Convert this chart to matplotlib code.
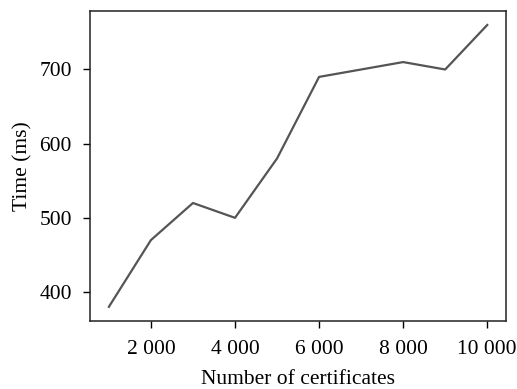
import matplotlib
matplotlib.use("Agg")
import matplotlib.pyplot as plt
from matplotlib.ticker import FuncFormatter

# data
certificates = [1000, 2000, 3000, 4000, 5000, 6000, 7000, 8000, 9000, 10000]
time_ms = [380, 470, 520, 500, 580, 690, 700, 710, 700, 760]

plt.rcParams["font.family"] = ["Liberation Serif", "DejaVu Serif"]
plt.rcParams["font.size"] = 15.5

fig = plt.figure(figsize=(5.17, 3.89), dpi=100)
ax = fig.add_axes([0.174, 0.175, 0.805, 0.797])
ax.plot(certificates, time_ms, color="#555555", lw=1.6)

ax.set_xticks([2000, 4000, 6000, 8000, 10000])
ax.set_yticks([400, 500, 600, 700])
ax.xaxis.set_major_formatter(FuncFormatter(lambda v, p: f"{int(v):,}".replace(",", " ")))
ax.tick_params(direction="out", length=5, width=1, labelsize=15.5)
ax.tick_params(axis="x", pad=9)
ax.tick_params(axis="y", pad=8)
for s in ax.spines.values():
    s.set_linewidth(1.1)
    s.set_color("#222222")

ax.set_xlabel("Number of certificates", fontsize=15.5, labelpad=8)
ax.set_ylabel("Time (ms)", fontsize=15.5, labelpad=5)

fig.savefig("out.png", dpi=100)
